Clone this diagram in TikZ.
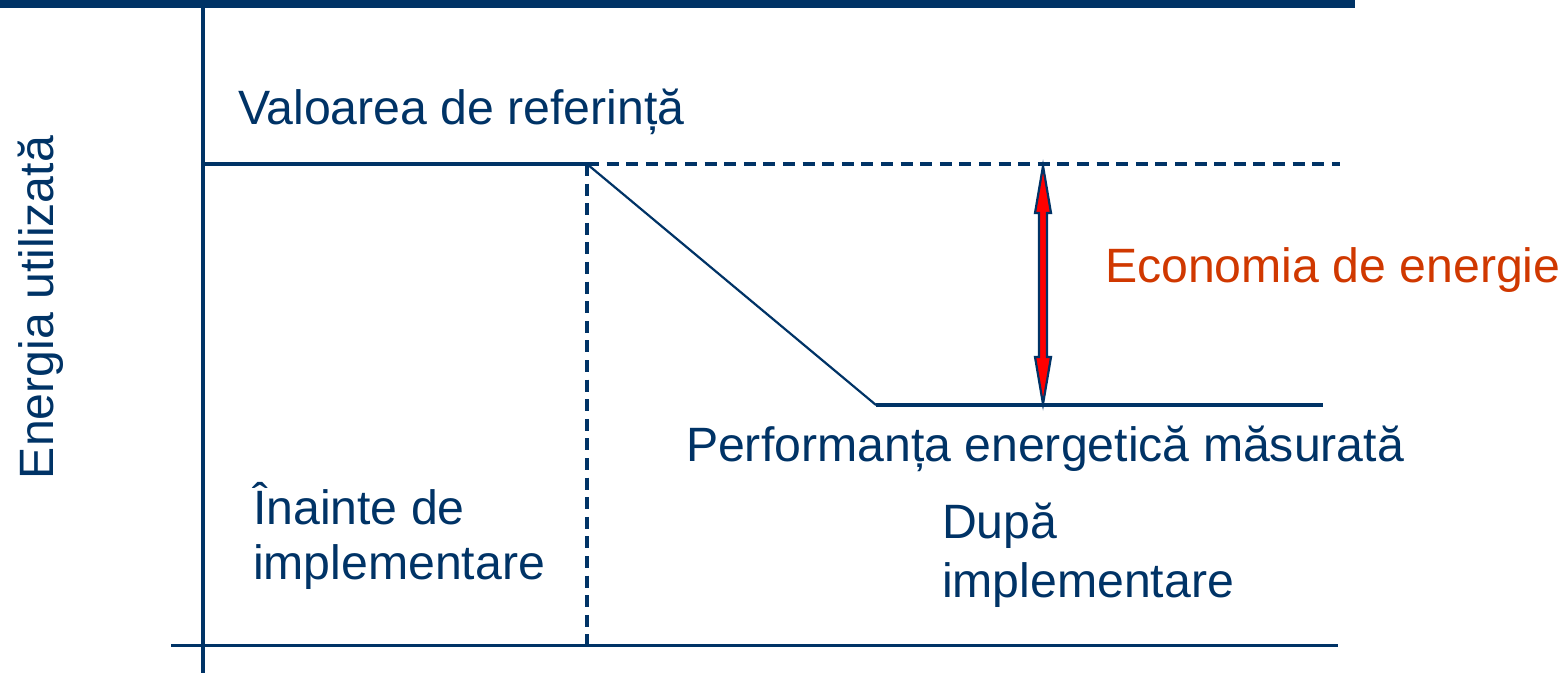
\documentclass[tikz,border=0pt]{standalone}
\usepackage{fontspec}
\setmainfont{Liberation Sans}
\usetikzlibrary{calc}
\definecolor{navy}{RGB}{0,51,102}
\definecolor{ecored}{RGB}{208,56,0}
\definecolor{arrowred}{RGB}{255,0,0}
\begin{document}
\begin{tikzpicture}[x=0.5pt,y=-0.5pt,
  lbl/.style={inner sep=0pt, outer sep=0pt, anchor=base west, text=navy,
    font=\fontsize{24.1}{27}\selectfont},
  axisline/.style={draw=navy, line width=1.7pt},
  dashline/.style={draw=navy, line width=1.6pt, dash pattern=on 6pt off 3.8pt},
  thinline/.style={draw=navy, line width=1.1pt},
  ecoarrow/.style={draw=navy, fill=arrowred, line width=1.1pt, line join=miter}
]
\useasboundingbox (0,0) rectangle (1566,673);
% top bar
\fill[navy] (0,0) rectangle (1355,8);
% coordinates
\coordinate (ytop) at (203,8);
\coordinate (ybot) at (203,673);
\coordinate (xl) at (171,645.5);
\coordinate (xr) at (1338,645.5);
\coordinate (base0) at (203,164);
\coordinate (brk) at (587,164);
\coordinate (brkdown) at (587,645.5);
\coordinate (baseend) at (1340,164);
\coordinate (low0) at (876,405);
\coordinate (low1) at (1323,405);
\coordinate (artop) at (1043,166);
\coordinate (arbot) at (1043,404);
% axes
\draw[axisline] (ytop) -- (ybot);
\draw[axisline] (xl) -- (xr);
% baseline
\draw[axisline] (base0) -- (brk);
\draw[dashline] (brk) -- (baseend);
\draw[dashline] (brk) -- (brkdown);
% measured performance
\draw[thinline] (brk) -- (low0);
\draw[axisline] (low0) -- (low1);
% savings arrow
\draw[ecoarrow] (artop) -- ++(8,47) -- ++(-4,0) -- ($(arbot)+(4,-47)$) -- ++(4,0)
  -- (arbot) -- ++(-8,-47) -- ++(4,0) -- ($(artop)+(-4,47)$) -- ++(-4,0) -- cycle;
% labels
\node[lbl] (valref) at (238,125) {Valoarea de referință};
\node[lbl, rotate=90] (energie) at (53,479) {Energia utilizată};
\node[lbl, text=ecored] (econ) at (1105,283) {Economia de energie};
\node[lbl] (perf) at (686,461) {Performanța energetică măsurată};
\node[lbl] (inainte1) at (253,524) {Înainte de};
\node[lbl] (inainte2) at (253,579) {implementare};
\node[lbl] (dupa1) at (942,538) {După};
\node[lbl] (dupa2) at (942,597) {implementare};
\end{tikzpicture}
\end{document}
